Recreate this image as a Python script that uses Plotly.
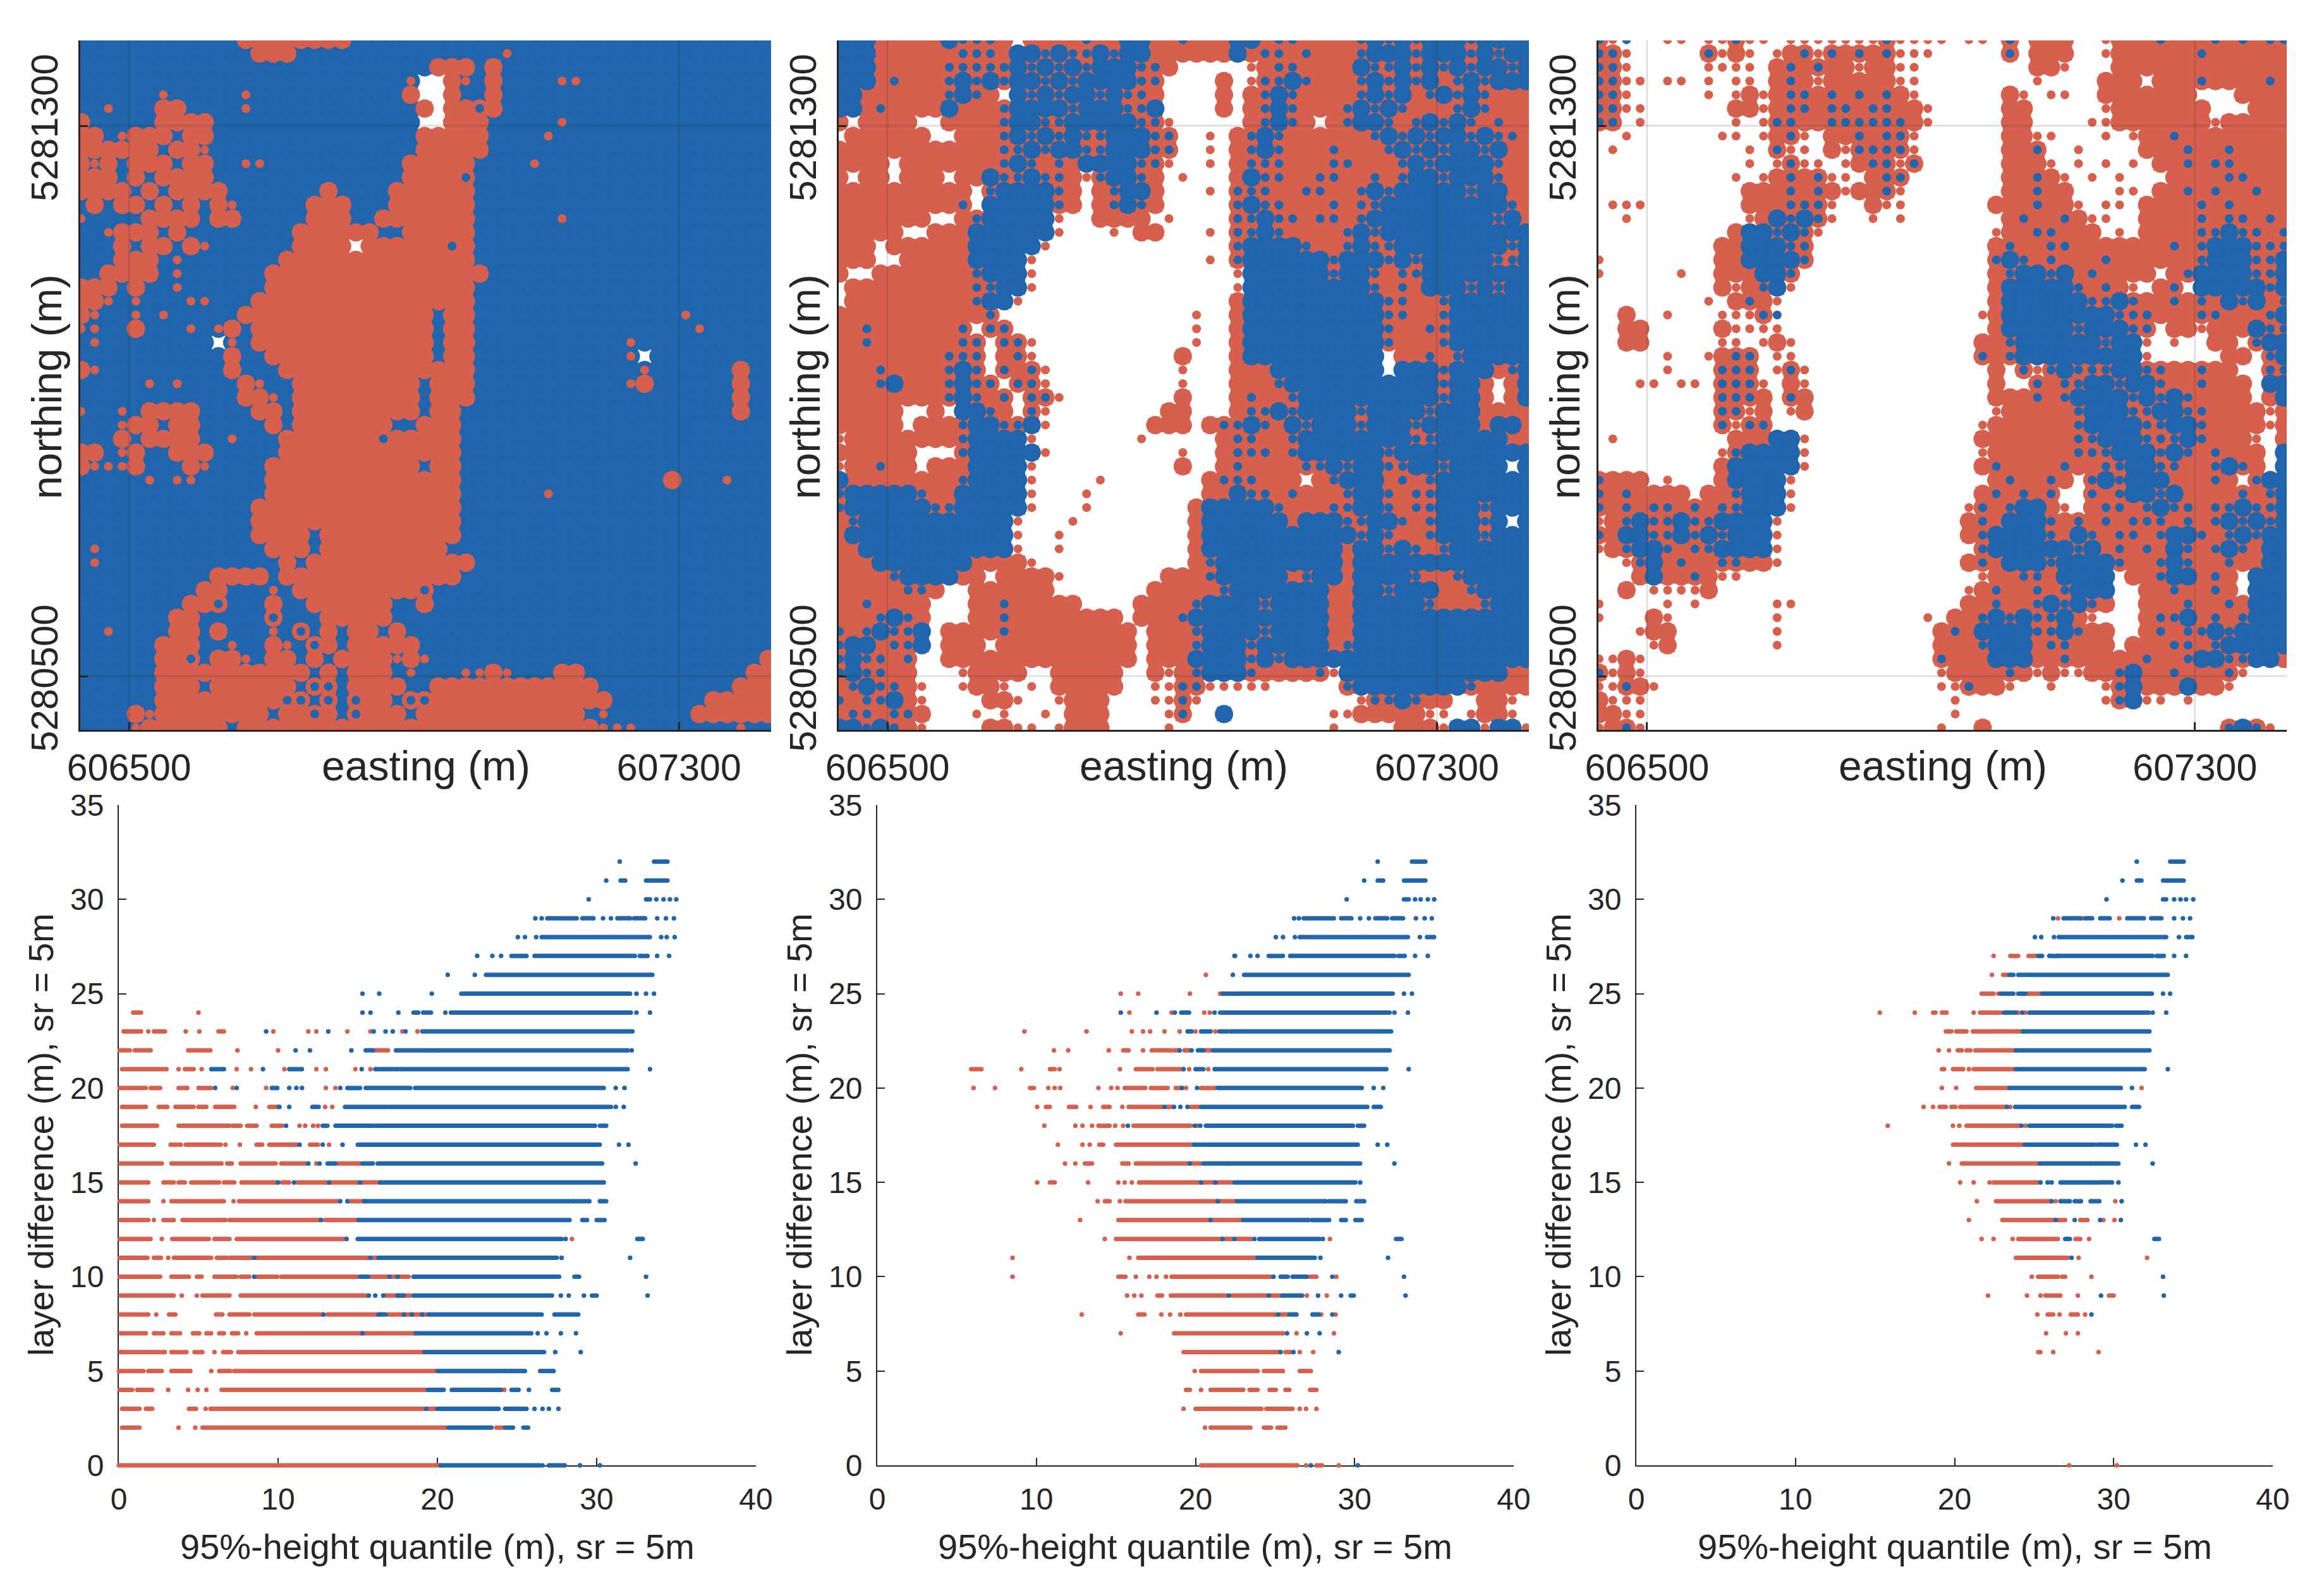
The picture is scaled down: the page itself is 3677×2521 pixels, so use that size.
import plotly.graph_objects as go

BLUE = "#2166ac"
RED = "#d6604d"
INK = "#262626"
FONT = "Liberation Sans"

map_easting = [606430, 606450, 606470, 606490, 606510, 606530, 606550, 606570, 606590, 606610,
               606630, 606650, 606670, 606690, 606710, 606730, 606750, 606770, 606790, 606810,
               606830, 606850, 606870, 606890, 606910, 606930, 606950, 606970, 606990, 607010,
               607030, 607050, 607070, 607090, 607110, 607130, 607150, 607170, 607190, 607210,
               607230, 607250, 607270, 607290, 607310, 607330, 607350, 607370, 607390, 607410,
               607430]
map_northing = [5281425, 5281405, 5281385, 5281365, 5281345, 5281325, 5281305, 5281285, 5281265, 5281245,
                5281225, 5281205, 5281185, 5281165, 5281145, 5281125, 5281105, 5281085, 5281065, 5281045,
                5281025, 5281005, 5280985, 5280965, 5280945, 5280925, 5280905, 5280885, 5280865, 5280845,
                5280825, 5280805, 5280785, 5280765, 5280745, 5280725, 5280705, 5280685, 5280665, 5280645,
                5280625, 5280605, 5280585, 5280565, 5280545, 5280525, 5280505, 5280485, 5280465, 5280445,
                5280425]
map_xticks = [606500, 607300]
map_yticks = [5280500, 5281300]
scatter_xticks = [0, 10, 20, 30, 40]
scatter_yticks = [0, 5, 10, 15, 20, 25, 30, 35]

# one row per northing, one char per easting cell
# B/R big blue/red, b/r single blue/red return, x red with blue on top, . nothing
map_1 = [
    "BBBBBBBBBB BBRRRRRRRR BBBBBBBBBB BBBBBBBBBB BBBBBBBBBB B",
    "BBBBBBBBBB BBBRRRBBBB BBBBBBBBBB BrBBBBBBBB BBBBBBBBBB B",
    "BBBBBBBBBB BBBBBBBBBB BBBBBBRRRB RBBBBBBBBB BBBBBBBBBB B",
    "BBBBBBBBBB BBBBBBBBBB BBBBr..RrB RBBBBrrBBB BBBBBBBBBB B",
    "BBBBBBrBBB BBrBBBBBBB BBBBR..RBB RBBBBBBBBB BBBBBBBBBB B",
    "BBrBBBRRBB BBrBBBBBBB BBBBBR.RRx RBBBBBBBBB BBBBBBBBBB B",
    "RBBBBBRRRR BBBBBBBBBB BBBBB..RRR BBBBBrBBBB BBBBBBBBBB B",
    "RRBrRRRBRR BBBBBBBBBB BBBBBRRRRR BBBBrBBBBB BBBBBBBBBB B",
    "RRRRRRBRRr BBBBBBBBBB BBBBBRRRRR BBBBBBBBBB BBBBBBBBBB B",
    "RrRBRRRBRR BBrrBBBBBB BBBBRRRRRB BBBrBBBBBB BBBBBBBBBB B",
    "RRRBRBRRRR BBBBBBBBBB BBBBRRRRxB BBBBBBBBBB BBBBBBBBBB B",
    "RRRRBRBRRR RBBBBBBBRB BBBRRRRRRB BBBBBBBBBB BBBBBBBBBB B",
    "BRBRRBRBRB RrBBBBBRRR BBBRRRRRRB BBBBBBBBBB BBBBBBBBBB B",
    "rBBBBRRRRB RRBBBBBRRR BBRRRRRRRB BBBBBrBBBB BBBBBBBBBB B",
    "BBrRRRBRBB BBBBBBRRRR RRBBRRRRRB BBBBBBBBBB BBBBBBBBBB B",
    "BBBRBRRBRr BBBBBBRRRR .RRRRRRxRB BBBBBBBBBB BBBBBBBBBB B",
    "BBBRRRBrBB BBBBBRRRRR RRRRRRRRRB BBBBBBBBBB BBBBBBBBBB B",
    "BBRRRRBrBB BBBBRRRRRR RRRRRRRRRR BBBBBBBBBB BBBBBBBBBB B",
    "RRRBRBBrBB BBBBRRRRRR RRRRRRRRRB BBBBBBBBBB BBBBBBBBBB B",
    "RRrBrBBBrr BBBRRRRRRR RRRRRRRRRB BBBBBBBBBB BBBBBBBBBB B",
    "RrBBrBrBBB BBRRRRRRRR RRRRRRBRRB BBBBBBBBBB BBBBrBBBBB B",
    "rrBBRBBBrB rRBRRRRRRR RRRRRRBRRB BBBBBBBBBB BBBBBrBBBB B",
    "BrBBBBBBBB .rBRRRRRRR RRRRRRBRRB BBBBBBBBBB rBBBBBBBBB B",
    "BBBBBBBBBB BRBBRRRRRR RRRRRRBRRB BBBBBBBBBB r.BBBBBBBB B",
    "RrBBBBBBBB BRBBBRRRRR RRRRRRRRRB BBBBBBBBBB BrBBBBBBRB B",
    "BBBBBrBrBB BBRrBBRRRR RRRRRBRRRB BBBBBBBBBB rRBBBBBBRB B",
    "BBBBBBBBBB BBRRrBRRRR RRRRRBRRRB BBBBBBBBBB BBBBBBBBRB B",
    "rBBrBRRRRB BBBRRBRRRR RRRRRBRRBB BBBBBBBBBB BBBBBBBBRB B",
    "BBBrRRBRRB BBBBRBRRRR RRRBBRRRBB BBBBBBBBBB BBBBBBBBBB B",
    "BBBRBRRRRB BrBBBRRRRR RRxRRRRRBB BBBBBBBBBB BBBBBBBBBB B",
    "RRBrRBBRRR BBBBBRRRRR RRRRRRRRBB BBBBBBBBBB BBBBBBBBBB B",
    "RrrrRBBBRr BBBBRRRRRR RRRRRBRRBB BBBBBBBBBB BBBBBBBBBB B",
    "BBBBBrBrrB BBBBRRRRRR RRRRRRRRBB BBBBBBBBBB BBBRBBBrBB B",
    "BBBBBBBBBB BBBBRRRRRR RRRRRRRRBB BBBBrBBBBB BBBBBBBBBB B",
    "BBBBBBBBBB BBBRRRRRRR RRRRRRRRBB BBBBBBBBBB BBBBBBBBBB B",
    "BBBBBBBBBB BBBRRRRRRR RRRRRRRRBB BBBBBBBBBB BBBBBBBBBB B",
    "BBBBBBBBBB BBBRRRRBRR RRRRRRRRBB BBBBBBBBBB BBBBBBBBBB B",
    "BrBBBBBBBB BBBBRRRBRR RRRRRRRBBB BBBBBBBBBB BBBBBBBBBB B",
    "BrBBBBBBBB BBBBBRBRRR RRRRRRRRRB BBBBBBBBBB BBBBBBBBBB B",
    "BBBBBBBBBB RRRRBRRRRR RRRRRRRRBB BBBBBBBBBB BBBBBBBBBB B",
    "BBBBBBBBBR RBBBrBRRRR RRRRRxBBBB BBBBBBBBBB BBBBBBBBBB B",
    "BBBBBBBBRR xBBBRBBRRR RRRBBRBBBB BBBBBBBBBB BBBBBBBBBB B",
    "BBBBBBBRRB BBBBxBBBRR RRRBBBBBBB BBBBBBBBBB BBBBBBBBBB B",
    "BBrBBBBRRB RBBBrBxBRB RRBRBBBBBB BBBBBBBBBB BBBBBBBBBB B",
    "BBBBBBRRRB BrBBRrBxRB RRRRRBBBBB BBBBBBBBBB BBBBBBBBBB B",
    "BBBBBBRRxB RRrBRRBRBR RRRrRrBBBB BBBBBBBBBB BBBBBBBBBB R",
    "BBBBBBRRRR RRRRRRRBRB RRRBrBBBrr RrBBBRRBBB BBBBBBBBBR R",
    "BBBBBBRRRB RRRRRRBxxB RRRRBBRRRR RRRRRRRRBB BBBBBBBBRR R",
    "BBBBBBRRRR RRRRRxxBxB xRRBxxRRRR RRRRRRRRRB BBBBBBRRRR R",
    "BBBBRrRRRR RRRRBRRxRB xRRRBRRRRR RRRRRRRBrB BBBBBRRRRR R",
    "BBBBrRRRRR RBRRRRRRRR RRRRRRRRRR RRRRRRRRrr rBBBBBBBrB B",
]
map_2 = [
    "BBBRRRRRBx xxR.RRRRxR RBBRRxRRRB BRxxRRRRxB xBxBBBxBBB B",
    "BBBRRRRRRx xxRBBxBxxB xBBRRRRRRB RxxRxRRRxB BBxBBBxBxB B",
    "BBBRRRRRxx xxxBxBxBxB BBxxR..... rRxxRRRRBx xBxBxBxBBx B",
    "BBBRxRRRxB xBxBBxBxBB BBxx....R. rxxBxRRRxB xBxBRxBxBB B",
    "BBRRRRRRxB xR.BxBxBBx BxxR....R. RxBxRRRRxB xBRxBxBxRR R",
    "BBRxRRRRBR RRxBBBBxBB BxxB....R. RxBxRRRxBx BxRRRxBxRR R",
    "R.RRRR..RR RRxBBxxBBB BBxxr..... RxBxR.RxBB xRxBxBxRxR R",
    ".RRRRRR..R RRxBxBxBxx BBBxx..r.R xBxRRRRRRx BxBxBBxBxx R",
    "RRRRRRRRRR RRxxBxBBxx BBBxx..r.R xBxRRRxRRR xBxBxBBxBR R",
    "RRRR.RRRRR RRxBxRxRBB BBxxr..r.R xxxRRRxxRR RxBxBBBBxR R",
    "R.RR.RRR.R RBxxBxxRrx BBxR.r...R BxxRRxxRRx RxBBxBBBxR R",
    "RRRRRRRRRR .xBBBBxR.R xBBR...r.x xxRRxxRRxB xBBBBBxBBR R",
    "RRRRRRRRRx .BBBBBxR.R xBxR.....x BxxRRRxRxx BBBBBBBBBx R",
    "RRRRRRR..R xBBBBBr..R RRR.r....x xBxxRxxRxB BBBBBBBBxB R",
    "RRRRR..RRR BBBBBBr... r.RR...r.x xBxRRRRxBx BBBBBBBBBB B",
    "RRR.RRRRRR BBBBBr.... .........x BBBBxRRxBx xBBBBBBBBx B",
    "RRR..RRRRR BBBBr..... .......r.x BBBBBBxBBB xBxBBBBBxx B",
    "R..RRRRRRR xBBBr..... .........r BBBBBBxBBx RxxBBBBBBB B",
    ".RRRRRRRRR xxBBr..... .........r BBBBBBBBBx RxRBBBxBxB B",
    ".RRRRRRRRR xBBr...... .........R BBBBBBBBBB xxRRxBBBBB B",
    "RRRRRRRRRR Rx........ ......r..R BBBBBBBBBB xxRRxBBBBB B",
    "RRxRRRRRRx .xx....... ......r..R BBBBBBBBBB xRRxxBBBBB B",
    "RRxRRRRRRx x.xxr..... ......r..R BBBBBBBBBB xRRRxBBBBB B",
    "RRRRRRRRxx x.Rxr..... .....R...R BBBBBBBBBB .RRxRxBBBB B",
    "RRRxRRRRxB x.xRxr.... .....r...R RRBBBBBBBB .BBBxBBBRx B",
    "RRRxBRRRxB xx.xxr.... .....r...R RRxBBBBBBB BBBBxBBR.R B",
    "RRRRRRRRxB xRx.xxr... .....R...R xRRxBBBBBB BBBBxBBR.R B",
    "RRRRR..R.B BxR.xr.... ....RR...R xxBxBBBBxB BBBxBBBRRR R",
    "RRRRR.RRRx BBxxBr.... ...RRR.Rxx BxRBxBBBxB BBxBBBBRBB R",
    "rRRRRRRRRx BBBBr..... ..r.....Rx xRRxBBBBBB BBxxBBBBBR R",
    "RRRRRR...x BBBBBr.... .....r..Rx xxRxBBBBBB xBBBBBBBBB B",
    "rRRxRR.RRR BBBBr..... .....R..Rx RRRRxxBxBB xxBBxBBBB. B",
    "BRRRRRRRRx BBBBr....r .......Rxx xRRR.RxBBB RxRxBBBBBB B",
    "xBBBBBxRRB BBBBr...r. .......RRB xxRxRRRxBB xRxxBBBBBB B",
    "xBBBBBBxxB BBBBr...r. ......RBBB BBxRRRxxBB xRxxBBBxBB B",
    "RxBBBBBBBB BBBr...r.. ......RBBB BBBRBBBxxB BxRxBBBxB. B",
    "RBBBBBBBBB BBBr..r... ......RBBB BBBBBBBBxB xRRxBBBxBB B",
    "RRBBBBBBBB BBBr..r... ......RBBB BBBBBBBRBB xBxRxBBBBB B",
    "RRRBBBBBBB RRRRr..... ......RxBB BBBBBBBRBB BBBBBBBBBB B",
    "RRRRxBBBBR R.RRRRr... ....RRRxBB BBBRxBBRBB BBxRRxBBBB B",
    "RRRRRxxR.. RRRRRR.... ...RRRRRxB BBBBBBRRBB xBBBRRxBBB B",
    "RRxRRRR... RRxRRRRR.. ..RRRRxBBB BxBBBBRRBB BBBxRRRxBB B",
    "RRRxBxR... RRxRRRRRRR R.RRRxBBBB BBBBBBRRBB BBBBBBBBBB B",
    "xRxBxxB.RR RRxRRRRRRR RR.RRRxBBB BxBBBBRRBB BBBBBBBBBB B",
    "xBBRxxB.RR R.RRRRRRRR RR.RRRxBBB xBBBBBRxBB BBBBBBBBBB B",
    "xBxxRx..RR RRRRRRRRRR RR.RRRBBBB xBxBBBBBBB BBBBBBBBBB B",
    "xBxxRR...r RRRR..RRRR R..RrRxBBB xRRRRxrBBB BBBBBBBBBR R",
    "RxBxxRr..r RRr.r.RRRR R..rrxxrrr rr.....xBB BBBBBBxRRR R",
    "xRxxBRr... .RRr..rRRR ...rrxr... ........rx xBxRR..RRr .",
    "RxxRxxR... r.r..r.RRR ....rx..B. ......rrRR RRRrr.rRRr .",
    "BBxBxRr... .RRrr.rRRR ....r..... ......r... .RRRrBBrBB r",
]
map_3 = [
    "xrb..rr.rr xrr.rrrrrr rxrrrr.rr. x.RRR..rRR RxRRRxRxRx x",
    "xxr.....xr Rr.rRxrxRx Rxrrr..... x.RRR..rRR RRRRxRRRRR R",
    "xxr.....rr rr.RxRxRRr RRrr...... ..RRr...RR RRRRRRRRRR R",
    "xxrr.rr.r. rr.RxRrRRR RRrr...... ..r....RRR .RRRxRRRRx R",
    "xxr.....r. rRrRxxRxRx RxRr...... Rr.rr..RRR RRRR...RRR R",
    "xxrr...... RRrRxxRxxR xxRRr..... RR.....rRR RRRRR...RR R",
    "xx.r...... r.rxxRRxxx xxxRr..... RR....rrRR RRRRRrRRRR R",
    "..r......r r.rRxr.RRx Rxxr...... RRrr...r.r RRxRRRRRRR R",
    ".r........ .r.xrr.Rrx xxxr...... RRx..r.... RRRxRRxRRR R",
    ".......... .r.rxrr.rR xxrx...... RRRr.r.r.r .RRxRxxRRR R",
    ".......... r.rRxRxrr. Rxx....... RRxRr.r.r. ..RRRRxxRR R",
    ".......... .RRRxRxRrR Rxr....... RRxRR...rr .RRxRxRRxR R",
    ".rrr...... .RRRxxxr.. Rrr......R RRxRRr.rr. RRRRxRxRRR R",
    "..r....... .rRBxBxr.. r.r....... RxRRxRrr.. RRRRxRxxRx R",
    ".......... RBBxBxr... .........r RRxxRRR.r. RRRRxxBxxR x",
    ".........R RBBBxx.... .........R xRRxxRRRRR RRxRxBBBxx x",
    "r........R RBBBBx.... .........x BxRxRRRxRR RRRRxBBBxx B",
    "r.....r..R RRBBx..... .........R xBBxBRxRRR R.RxBBBBxx B",
    ".........R rRxBr..... .........R BBBBBxRxRr .Rx.BBBBBx B",
    "........r. RxRr...... .........R BBBBBBxxBx RRxRxRBxBR x",
    "..R..r...r rrxb...... ........rR BBBBBBBBxx xRRRxxRRRx B",
    "..RR.....R rrrr...... .........R BBBBBxBBBx x.RRrRRRBx x",
    "..RR.....r r.rRr..... ........RR xBBBBBBxBB r.r..RR.xB B",
    ".....r..rR xx.rr..... ........xR xBBBBBBBBB r.....RR.x B",
    ".....r...x xx.rxr.... .........R .xrxBxxxBB xxRRxRR..x x",
    "...rr.rr.x xxr.Rr.... .........R ..xRxxBBxB BxRRxRRR.B B",
    ".........x xxR.xR.... .........R RRxRxBBBBx BxBxRRRR.R B",
    ".........x xrR.rR.... .........r RRRRRxBBBx xBBxxRRRRr R",
    ".........x rxx....... ........rR RRRRRxBBBB xxBBxRRRRr R",
    ".r........ RRRBBr.... ........RR RRRRRxxBBB xxxBxRRRr. R",
    ".........r xBBBBr.... ........rR RRRRRxxxBB BxBxRxRRR. B",
    ".........R BBBBBr.... ........Rx RRRRxRRxxB BxxRRxBxR. B",
    "xRRR.r...R BBBBr..... .........R xRRxR.xBxB BBRRRxR.xB B",
    "xRxRRRR.RR xBBBr..... ........Rx RxRx..xRxB BxBRRRRxRx B",
    "xRxRxxRxRx xBBBr..... .......rxR xBBRr.RxxR xBxxRxxBxx B",
    "rRxBxxBxxB BBBr...... .......RxR BBBxRxRxRx xxRxRxBxBx B",
    "xRBBxxBxBx BBBr...... .......RxB BBBxRBxRxx RxBBxRxBxB B",
    "rRxBBxRxxB BBBr...... ........xB BBBBBxBRxR xRBxRxBxRB B",
    "..rxBRxRRx xRRr...... .......RxR BBBxBBBBxR RxBxRRxRRB B",
    "...RBRRxRr r......... ........rR RxxRBBBB.R RxBBRxR.BB B",
    "..R.rrrrR. .......... .......rRx RRxRxBBB.. RRxRRxR.BB B",
    "r....r.r.. ...rr..... .......RRx RRxBxBxR.. RRRxRRxRBB B",
    "r...Rr.... ...r...... ....r.RRxB xBxxBRr... RxxBRxRxBB B",
    "...rRR.... ...r...... .....RxRBB BBxxBxRR.. RxRxxBxBBB B",
    "....rR.... ...r...... .....RRRxB BBRxxRRR.R RRxxRxBBBB B",
    "rrRr...... .......... .....xRRRB BBRRxRRRRR xRRxBBxxBB R",
    "xrRr...... .......... .....rRRRR xRrRrrRRxB RRxRRRxr.. .",
    "rrxRr..... .......... .....rrxRR r..r...rxB RRRBRRr... .",
    "Rrrr...... .......... ......r... .......rxB rr.r...... .",
    "RRrr...... .......... ......r... .......... .......... .",
    "rRxr...... .......... .....r..R. .......... ......xBxr .",
]

# rows of the lower panels: layer difference -> height runs (start, end) and single returns
red_1 = {
    24: [(0.9, 1.4), 5.0],
    23: [(0.3, 1.4), 1.85, (2.2, 2.9), 4.2, 5.05, (6.25, 6.6), 9.7, 11.9, 12.4, 14.35, 15.8, 17.8, 18.75],
    22: [(0.05, 0.7), (1.0, 2.0), (4.35, 5.75), 7.45, 10.0, (16.1, 16.9)],
    21: [(0.2, 3.0), 3.75, (4.15, 4.7), 5.2, 7.4, 8.3, 10.4, 12.4, 13.0, 14.85, 15.8],
    20: [(0.05, 1.7), (2.0, 2.6), (3.75, 4.3), (5.0, 5.8), 7.15, 9.25, 13.0, 13.6],
    19: [(0.2, 1.7), (2.5, 3.05), (3.55, 4.7), (5.0, 5.5), (6.05, 7.25), 8.6, (9.45, 10.1), 12.95, 13.4],
    18: [(0.2, 2.4), (3.75, 6.95), (7.15, 7.65), (8.05, 8.65), (9.6, 10.25), 11.35, 11.7, 12.2, 12.5],
    17: [(0.05, 2.2), (3.25, 3.9), (4.2, 6.4), 6.7, 7.6, (8.65, 9.0), (9.45, 11.2), (12.0, 12.5), 13.2],
    16: [(0.1, 2.7), (3.3, 6.45), (6.8, 7.1), (7.65, 9.85), (10.2, 11.8), 12.4, (13.75, 15.15)],
    15: [(0.1, 1.85), (2.8, 3.45), (3.75, 4.15), (4.55, 6.3), (6.6, 7.25), (7.7, 9.95), (10.25, 10.7),
         (11.2, 13.1), (13.25, 15.0), (15.3, 16.4)],
    14: [(0.05, 1.85), 2.8, (3.3, 6.6), 7.2, (7.55, 13.75), (14.5, 15.4)],
    13: [(0.1, 1.85), 2.2, (2.8, 3.45), (4.0, 6.7), (6.95, 12.6), (12.95, 15.0)],
    12: [(0.05, 2.0), 2.7, (3.35, 5.65), (6.0, 6.95), (7.4, 14.2), 28.45],
    11: [(0.05, 1.8), (2.2, 2.65), 3.1, (3.45, 5.8), (6.15, 6.8), (7.0, 8.35), (8.65, 15.65), (15.95, 16.3)],
    10: [(0.05, 2.6), (3.3, 4.4), (4.9, 5.2), (6.0, 7.4), (7.65, 8.2), (8.65, 9.95), (10.2, 15.0), (15.8, 18.2)],
    9: [(0.1, 3.45), 3.95, 4.9, (5.25, 6.95), (7.65, 15.65), (16.7, 18.3)],
    8: [(0.1, 1.85), 2.35, (3.15, 3.55), (6.1, 6.5), (6.95, 8.2), (8.5, 12.8), (13.1, 16.25), (16.9, 19.4)],
    7: [(0.1, 1.7), (2.2, 2.8), (3.3, 3.85), (4.65, 5.05), (5.5, 5.8), (6.3, 6.6), (7.1, 7.5), 8.0, (8.65, 15.25),
        (15.45, 18.6)],
    6: [(0.1, 2.9), (3.3, 4.25), (4.75, 5.25), 6.0, (6.55, 7.05), (7.5, 19.1)],
    5: [(0.0, 1.55), (1.85, 2.7), (3.3, 4.5), 5.8, (6.3, 7.0), (7.25, 19.9), 24.1],
    4: [(0.05, 0.85), (1.15, 2.1), 3.1, 4.35, 4.95, 5.5, (6.45, 19.25), 24.2],
    3: [(0.2, 1.3), (1.7, 2.1), (4.4, 4.85), 5.45, (5.75, 19.3), (19.45, 20.0)],
    2: [(0.2, 1.3), 3.75, 4.8, (5.25, 20.55), (23.7, 24.1)],
    0: [(0.0, 20.2)],
}
blue_1 = {
    32: [31.45, (33.6, 34.45)],
    31: [30.6, (31.5, 31.8), (33.1, 34.45)],
    30: [29.5, (33.1, 33.35), 33.75, 34.2, 34.6, 35.0],
    29: [26.15, 26.55, (26.9, 28.75), (29.1, 29.8), 30.4, 30.9, (31.3, 32.1), (32.35, 33.05), 33.8, 34.35, 34.85],
    28: [25.05, 25.5, 26.2, (26.55, 33.35), 34.05, 34.4, 34.9],
    27: [22.5, 23.45, 24.0, (24.65, 25.6), (26.1, 32.4), (32.7, 33.2), 33.8, 34.55],
    26: [20.65, 22.35, (23.05, 33.5)],
    25: [15.3, 16.35, 19.65, (21.5, 32.1), 32.5, 33.1, 33.6],
    24: [15.3, 15.8, 17.55, (18.5, 18.8), (19.1, 19.6), 20.5, (20.85, 32.15), 32.5, 33.35],
    23: [9.25, 13.15, 16.0, 16.75, 17.2, 18.0, (19.05, 32.25)],
    22: [11.1, 12.0, 14.6, (15.5, 15.95), (17.4, 19.6), (19.75, 31.95), 32.2],
    21: [(5.8, 6.6), 9.05, (10.7, 11.5), 15.25, (16.1, 17.55), (17.7, 31.95), 33.35],
    20: [6.05, 7.4, (9.6, 9.95), 10.7, 11.15, 11.5, 13.9, (14.35, 15.15), (15.5, 18.3), (18.6, 30.45), 31.2, 31.75],
    19: [10.05, 10.7, (12.15, 12.55), (14.2, 16.9), (17.05, 30.9), 31.2, 31.7],
    18: [10.5, (12.8, 13.1), (13.6, 15.95), (16.1, 29.9), (30.2, 30.6)],
    17: [11.35, 12.8, 14.05, (15.0, 30.2), 31.4, 32.0],
    16: [11.9, 12.6, (13.1, 13.6), (15.3, 15.95), (16.25, 30.35), 32.45],
    15: [10.0, 11.0, 13.2, 15.15, (16.4, 30.45)],
    14: [13.9, 14.35, (15.4, 28.3), (28.45, 29.55), (30.2, 30.6)],
    13: [12.7, (15.05, 28.3), (29.1, 29.4), (30.0, 30.5)],
    12: [14.3, (15.0, 27.8), 28.05, (32.55, 32.9)],
    11: [8.5, 15.8, (16.3, 27.5), 27.8, 32.1],
    10: [8.5, (15.15, 15.65), 17.0, 17.5, (18.5, 27.65), (28.6, 28.9), 33.1],
    9: [15.7, 16.1, 16.6, (17.5, 17.9), (18.5, 27.2), 27.75, 28.25, 29.2, (29.7, 30.0), 33.2],
    8: [12.85, (16.3, 16.75), 17.9, 18.4, 19.05, (19.45, 26.55), (27.35, 28.85)],
    7: [15.3, (18.65, 25.9), 26.3, 26.85, 27.75, 28.7],
    6: [(19.2, 26.7), 27.4, 29.0],
    5: [(20.0, 24.0), (24.2, 25.5), (26.45, 27.3)],
    4: [(19.4, 20.4), (20.9, 24.0), (24.65, 25.1), 25.75, (27.2, 27.6)],
    3: [19.3, (20.0, 23.85), (24.25, 25.6), 26.1, 26.6, 27.0, 27.6],
    2: [(20.7, 23.4), (24.25, 24.75), (25.4, 25.7)],
    0: [(20.2, 26.4), 26.6, (27.0, 28.0), 28.95, 30.2],
}
red_2 = {
    27: [22.5],
    26: [20.65],
    25: [15.3, 16.4, 19.65, 21.55, 22.6],
    24: [15.85, 18.5, 20.55, 20.9],
    23: [9.25, 13.15, 16.0, 16.7, 17.15, 18.05, 19.0, 20.0, 21.25],
    22: [11.1, 12.0, 14.55, (15.45, 15.8), 16.7, (17.25, 18.5), (18.7, 19.0), (19.3, 19.6), (20.6, 20.95)],
    21: [(5.9, 6.55), 9.05, (10.85, 11.15), 11.45, 15.25, (16.25, 17.3), (17.6, 19.1), 19.6, 20.8],
    20: [6.05, 7.4, (9.6, 9.85), 10.75, 11.15, 11.5, 13.9, 14.7, 15.1, (15.55, 16.85), (17.2, 18.25), (18.75, 19.1),
         19.4, (20.35, 21.25)],
    19: [10.05, (10.6, 10.85), (12.05, 12.5), 13.4, (14.2, 14.6), 15.4, (15.8, 17.9), (18.2, 18.5), (19.7, 20.2)],
    18: [10.5, 12.45, 12.9, 13.5, (13.9, 14.6), 14.95, 15.45, (16.1, 19.7), 20.1],
    17: [11.35, 12.9, 13.35, (13.95, 14.2), (15.0, 19.8)],
    16: [11.8, 12.45, (13.05, 13.5), (15.4, 15.8), (16.25, 20.35)],
    15: [10.05, (10.85, 11.15), 13.25, 15.15, 15.55, 16.0, (16.45, 20.35), (20.5, 21.2), (21.4, 22.3)],
    14: [13.85, (14.3, 14.6), 15.25, (15.6, 21.4), (21.55, 22.5)],
    13: [12.75, (15.15, 20.9), (21.1, 22.9), 27.1],
    12: [14.3, (15.0, 21.7), (21.85, 22.3), (22.6, 23.5), 28.45],
    11: [8.5, 15.85, (16.4, 23.85)],
    10: [8.5, (15.15, 15.6), 16.25, 17.1, 17.55, 18.15, (18.5, 24.9), (27.2, 27.6), 28.85],
    9: [15.7, 16.15, 16.6, (17.6, 17.9), (18.45, 22.0), (22.3, 24.6), (24.75, 25.35), 27.0, 28.25],
    8: [12.85, (16.4, 16.8), 17.85, 18.4, 19.05, (19.4, 25.05), (25.35, 25.8), 27.9, 28.8],
    7: [15.3, (18.65, 25.5), 26.35, 28.7],
    6: [(19.25, 25.25), (25.65, 25.95), 26.55, 27.4],
    5: [19.95, (20.35, 23.9), (24.3, 25.5), (26.55, 27.25)],
    4: [(19.4, 19.65), 20.35, (20.95, 23.0), (23.4, 23.9), (24.65, 25.05), (25.65, 25.9), (27.2, 27.6)],
    3: [19.25, (20.0, 24.15), (24.45, 26.1), 26.55, 26.95, 27.6],
    2: [20.6, (20.95, 23.45), (24.3, 24.75), (25.15, 25.65)],
    0: [(20.35, 26.4), 26.95, (27.6, 27.95), 29.0],
}
blue_2 = {
    32: [31.45, (33.6, 34.45)],
    31: [30.6, (31.45, 31.8), (33.1, 34.45)],
    30: [29.5, (33.1, 33.4), 33.8, 34.15, 34.6, 35.0],
    29: [26.2, 26.5, (26.8, 28.7), (29.15, 29.8), 30.35, 30.9, (31.3, 32.05), (32.35, 33.05), 33.85, 34.4, 34.85],
    28: [25.05, 25.5, 26.25, (26.55, 33.35), 34.1, (34.55, 35.0)],
    27: [22.45, 23.45, 23.9, (24.6, 25.5), (25.95, 32.5), (32.75, 33.15), 33.8, 34.6],
    26: [22.35, (23.05, 33.4)],
    25: [(21.7, 22.55), (22.7, 32.4), 33.1, 33.6],
    24: [15.3, 17.55, 18.7, (19.1, 19.6), 21.2, (21.55, 32.2), 32.5, 33.35],
    23: [(19.5, 19.75), (20.35, 20.95), (21.5, 22.0), (22.2, 32.3)],
    22: [19.0, 19.75, (20.15, 20.5), (21.1, 32.2)],
    21: [19.25, (20.0, 20.5), (21.2, 32.0), 33.4],
    20: [19.15, 20.1, (21.4, 30.45), 31.2, 31.8],
    19: [18.05, 18.65, 19.05, 19.5, (20.35, 30.8), (31.2, 31.65)],
    18: [15.75, 19.95, 20.3, (20.65, 29.9), (30.2, 30.6)],
    17: [(19.9, 20.65), (20.8, 30.2), 31.45, 32.05],
    16: [19.65, (20.5, 22.0), (22.0, 30.35), 32.5],
    15: [20.35, 21.25, (22.45, 30.05), 30.35],
    14: [21.4, (22.6, 28.2), (28.4, 29.45), (30.1, 30.6)],
    13: [20.95, (23.0, 27.05), (27.3, 28.4), (29.15, 29.45), (30.05, 30.45)],
    12: [21.7, 22.45, 23.7, (24.0, 27.8), 28.0, (32.6, 32.95)],
    11: [(23.9, 27.5), 27.85, 32.1],
    10: [24.9, (25.35, 25.8), (26.1, 27.0), 28.6, 33.1],
    9: [22.1, 24.6, (25.45, 26.7), 27.7, 29.15, (29.75, 29.95), 33.2],
    8: [25.2, (25.9, 26.35), (27.35, 27.75), 28.6],
    7: [25.75, 27.0, 27.8],
    6: [25.35, 26.15, 29.0],
    0: [27.25, 30.2],
}
red_3 = {
    29: [26.5, 28.0, 30.35],
    27: [22.45, (23.5, 24.0), (24.65, 25.1)],
    26: [22.35, (23.05, 23.4)],
    25: [(21.7, 22.45), 22.75, (24.6, 25.4)],
    24: [15.3, 17.5, (18.65, 18.8), (19.2, 19.5), 21.2, (21.6, 22.9), 24.0, 24.45],
    23: [(19.45, 19.8), (20.1, 20.75), (21.15, 22.15), (22.25, 24.3)],
    22: [19.0, 19.65, (20.2, 20.45), (20.75, 21.0), (21.3, 23.75)],
    21: [(19.2, 19.35), (19.9, 20.55), 20.9, (21.2, 23.75)],
    20: [19.2, 20.1, (21.35, 23.4), 31.75],
    19: [18.05, 18.65, (19.05, 19.45), (19.8, 20.05), (20.35, 23.25), 23.5],
    18: [15.8, 19.9, 20.3, (20.75, 24.15), 24.45],
    17: [(19.9, 20.75), (20.9, 24.3)],
    16: [19.65, (20.45, 25.25)],
    15: [20.35, 21.2, 22.2, (22.45, 25.25)],
    14: [21.4, (22.6, 26.0), 26.35, 30.1],
    13: [20.9, (23.0, 26.2), (26.5, 26.95), (27.9, 28.35), 29.35, 30.05],
    12: [21.7, 22.45, 23.65, (24.0, 26.5), (27.6, 27.9), 28.45],
    11: [(23.85, 27.1), 27.8, 32.1],
    10: [24.85, (25.25, 26.5), (26.75, 26.95), 28.6],
    9: [22.1, 24.55, 25.4, (25.7, 26.65), 27.75, (29.7, 30.0)],
    8: [25.2, (25.85, 26.2), 26.6, (27.3, 27.75), 28.2],
    7: [25.75, 27.0, 27.75],
    6: [(25.25, 25.4), 26.2, 29.05],
    0: [27.2, 30.2],
}
blue_3 = {
    32: [31.45, (33.55, 34.4)],
    31: [30.55, (31.45, 31.75), (33.1, 34.4)],
    30: [29.55, (33.1, 33.3), 33.8, 34.2, 34.55, 35.0],
    29: [26.2, (26.85, 27.9), (28.2, 28.65), (29.15, 29.75), (30.85, 31.9), (32.35, 33.0), 33.8, 34.35, 34.8],
    28: [25.05, 25.45, 26.25, (26.55, 33.3), 34.1, (34.55, 34.95)],
    27: [(25.25, 25.5), (25.95, 26.5), (26.5, 32.45), (32.7, 33.15), 33.8, 34.55],
    26: [(23.45, 23.7), (24.0, 24.8), (24.95, 33.4)],
    25: [(22.9, 23.7), (24.0, 24.45), (25.5, 32.4), 33.1, 33.55],
    24: [(23.1, 23.85), 24.25, (24.7, 32.2), 32.45, 33.3],
    23: [(24.3, 32.25)],
    22: [(23.85, 32.25)],
    21: [(23.85, 31.95), 33.4],
    20: [(23.45, 30.45), 31.15],
    19: [23.3, (23.8, 30.7), (31.15, 31.6)],
    18: [24.2, (24.7, 29.9), (30.15, 30.5)],
    17: [(24.4, 28.8), (29.0, 30.2), 31.4, 32.0],
    16: [(25.35, 28.65), (28.8, 30.3), 32.45],
    15: [25.4, 25.85, 26.1, (26.65, 29.0), (29.15, 29.9), 30.3],
    14: [26.1, (26.65, 27.25), (27.55, 27.95), (28.55, 29.1), 30.5],
    13: [26.35, 27.55, 29.15, 30.45],
    12: [(26.95, 27.25), (32.55, 32.85)],
    11: [27.35],
    10: [33.1],
    9: [29.2, 33.15],
    8: [28.6],
}

map_panels = [map_1, map_2, map_3]
red_panels = [red_1, red_2, red_3]
blue_panels = [blue_1, blue_2, blue_3]

# pixel frames of the panels
W, H = 3677, 2521
map_frames = [(127, 1220), (1327, 2419), (2529, 3618)]
scatter_frames = [(188, 1196), (1388, 2395), (2589, 3596)]
MAP_TOP, MAP_BOTTOM = 64, 1155
SC_TOP, SC_BOTTOM = 1274, 2319
SC_PAD = 8  # px the lower data may spill past its axes
MAP_XRANGE = [606429, 607434]
MAP_YRANGE = [5280422, 5281424]
# big cells: a square fills the cell, a circle rounds its outline
BIG = [("square", 22.5), ("circle", 29)]
SMALL = [("circle", 14)]
# panel 1 has blue under everything, red blobs win at the edges
map_layers = [
    [("Br", BLUE, BIG), ("Rx", RED, BIG), ("r", RED, SMALL), ("bx", BLUE, SMALL)],
    [("Rx", RED, BIG), ("B", BLUE, BIG), ("r", RED, SMALL), ("bx", BLUE, SMALL)],
    [("Rx", RED, BIG), ("B", BLUE, BIG), ("r", RED, SMALL), ("bx", BLUE, SMALL)],
]


def cells(rows, keys):
    xs, ys = [], []
    for j, row in enumerate(rows):
        row = row.replace(" ", "")
        for i, c in enumerate(row[:len(map_easting)]):
            if c in keys:
                xs.append(map_easting[i])
                ys.append(map_northing[j])
    return xs, ys


def runs(table):
    xs, ys = [], []
    for level, items in table.items():
        for item in items:
            a, b = item if isinstance(item, tuple) else (item, item)
            xs += [a, b, None]
            ys += [level, level, None]
    return xs, ys


fig = go.Figure()
annotations = []
shapes = []
layout = {}


def label(text, px, py, size, angle=0):
    annotations.append(dict(text=text, x=px / W, y=1 - py / H, xref="paper", yref="paper",
                            showarrow=False, textangle=angle, xanchor="center", yanchor="middle",
                            font=dict(family=FONT, size=size, color=INK)))


for n in range(3):
    # upper map
    xname, yname = f"x{2 * n + 1}", f"y{2 * n + 1}"
    left, right = map_frames[n]
    for keys, color, marks in map_layers[n]:
        xs, ys = cells(map_panels[n], keys)
        for symbol, size in marks:
            fig.add_trace(go.Scatter(x=xs, y=ys, mode="markers", xaxis=xname, yaxis=yname, showlegend=False,
                                     marker=dict(color=color, size=size, symbol=symbol, line_width=0)))
    layout[f"xaxis{2 * n + 1}"] = dict(domain=[left / W, right / W], anchor=yname, range=MAP_XRANGE,
                                       tickvals=map_xticks, ticktext=[str(v) for v in map_xticks],
                                       ticks="inside", ticklen=12, tickwidth=3, tickcolor=INK,
                                       showline=True, linecolor=INK, linewidth=3, showgrid=False, zeroline=False,
                                       tickfont=dict(family=FONT, size=59, color=INK), ticklabelstandoff=6)
    layout[f"yaxis{2 * n + 1}"] = dict(domain=[1 - MAP_BOTTOM / H, 1 - MAP_TOP / H], anchor=xname, range=MAP_YRANGE,
                                       tickvals=map_yticks, ticktext=[str(v) for v in map_yticks], tickangle=-90,
                                       ticks="inside", ticklen=12, tickwidth=3, tickcolor=INK,
                                       showline=True, linecolor=INK, linewidth=3, showgrid=False, zeroline=False,
                                       tickfont=dict(family=FONT, size=60, color=INK), ticklabelstandoff=9,
                                       ticklabelshift=12)
    # grid sits over the points in the original
    for v in map_xticks:
        shapes.append(dict(type="line", xref=xname, yref=yname, x0=v, x1=v, y0=MAP_YRANGE[0], y1=MAP_YRANGE[1],
                           line=dict(color="rgba(38,38,38,0.15)", width=3), layer="above"))
    for v in map_yticks:
        shapes.append(dict(type="line", xref=xname, yref=yname, x0=MAP_XRANGE[0], x1=MAP_XRANGE[1], y0=v, y1=v,
                           line=dict(color="rgba(38,38,38,0.15)", width=3), layer="above"))
    label("easting (m)", (left + right) / 2, 1212, 66)
    label("northing (m)", left - 53, 612, 66, -90)

    # lower scatter: visible axes on one subplot, data on a hidden one a bit larger so lines are not cut
    xname, yname = f"x{2 * n + 2}", f"y{2 * n + 2}"
    left, right = scatter_frames[n]
    fig.add_trace(go.Scatter(x=[None], y=[None], xaxis=xname, yaxis=yname, showlegend=False))
    layout[f"xaxis{2 * n + 2}"] = dict(domain=[left / W, right / W], anchor=yname, range=[0, 40],
                                       tickvals=scatter_xticks, ticks="inside", ticklen=12, tickwidth=2,
                                       tickcolor=INK, showline=True, linecolor=INK, linewidth=2, showgrid=False,
                                       zeroline=False,
                                       tickfont=dict(family=FONT, size=48, color=INK), ticklabelstandoff=10)
    layout[f"yaxis{2 * n + 2}"] = dict(domain=[1 - SC_BOTTOM / H, 1 - SC_TOP / H], anchor=xname, range=[0, 35],
                                       tickvals=scatter_yticks, ticks="inside", ticklen=12, tickwidth=2,
                                       tickcolor=INK, showline=True, linecolor=INK, linewidth=2, showgrid=False,
                                       zeroline=False,
                                       tickfont=dict(family=FONT, size=48, color=INK), ticklabelstandoff=12)
    dx = SC_PAD * 40 / (right - left)
    dy = SC_PAD * 35 / (SC_BOTTOM - SC_TOP)
    data_x, data_y = f"x{7 + n}", f"y{7 + n}"
    layout[f"xaxis{7 + n}"] = dict(domain=[(left - SC_PAD) / W, (right + SC_PAD) / W], anchor=data_y,
                                   range=[-dx, 40 + dx], visible=False)
    layout[f"yaxis{7 + n}"] = dict(domain=[1 - (SC_BOTTOM + SC_PAD) / H, 1 - (SC_TOP - SC_PAD) / H], anchor=data_x,
                                   range=[-dy, 35 + dy], visible=False)
    for table, color in [(red_panels[n], RED), (blue_panels[n], BLUE)]:
        xs, ys = runs(table)
        fig.add_trace(go.Scatter(x=xs, y=ys, mode="lines+markers", xaxis=data_x, yaxis=data_y, showlegend=False,
                                 connectgaps=False, line=dict(color=color, width=7),
                                 marker=dict(color=color, size=7, line_width=0)))
    label("95%-height quantile (m), sr = 5m", (left + right) / 2, 2447, 56)
    label("layer difference (m), sr = 5m", left - 124, 1796, 56, -90)

fig.update_layout(width=W, height=H, autosize=False, margin=dict(l=0, r=0, t=0, b=0, autoexpand=False),
                  paper_bgcolor="white", plot_bgcolor="rgba(0,0,0,0)", showlegend=False,
                  annotations=annotations, shapes=shapes, **layout)

fig.write_html("out.html", config={"displayModeBar": False}, post_script="document.body.style.margin='0';")
